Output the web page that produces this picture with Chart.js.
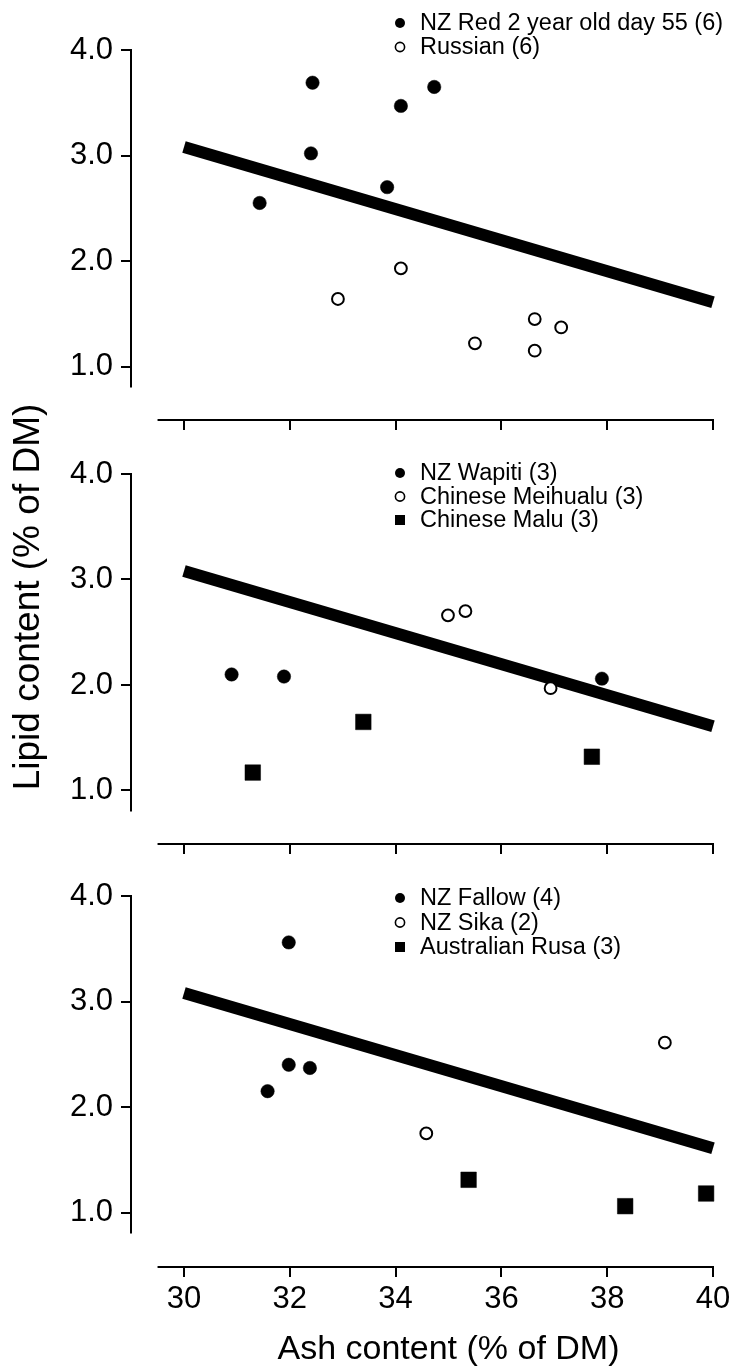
<!DOCTYPE html>
<html>
<head>
<meta charset="utf-8">
<script src="https://cdn.jsdelivr.net/npm/chart.js@4.4.1/dist/chart.umd.min.js"></script>
<style>
  html, body { margin: 0; padding: 0; background: #fff; overflow: hidden; width: 731px; height: 1367px; }
  canvas { position: absolute; left: 0; }
</style>
</head>
<body>
<canvas id="c1" width="760" height="440" style="top:0px"></canvas>
<canvas id="c2" width="760" height="534" style="top:330px"></canvas>
<canvas id="c3" width="760" height="524" style="top:846px"></canvas>
<script>
// ---------------- data ----------------
const xTicks = [30, 32, 34, 36, 38, 40];
const xTickLabels = ['30', '32', '34', '36', '38', '40'];
const yTicks = [1, 2, 3, 4];
const yTickLabels = ['1.0', '2.0', '3.0', '4.0'];

// common regression line (ash vs lipid)
const fitAsh = [30, 40];
const fitLipid = [3.08, 1.61];

// Panel 1
const nzRedAsh = [31.43, 32.43, 32.40, 33.84, 34.10, 34.73];
const nzRedLipid = [2.55, 3.69, 3.02, 2.70, 3.47, 3.65];
const russianAsh = [32.91, 34.10, 35.50, 36.63, 36.63, 37.13];
const russianLipid = [1.64, 1.93, 1.22, 1.45, 1.15, 1.37];

// Panel 2
const wapitiAsh = [30.90, 31.89, 37.90];
const wapitiLipid = [2.10, 2.08, 2.06];
const meihualuAsh = [34.99, 35.32, 36.93];
const meihualuLipid = [2.66, 2.70, 1.97];
const maluAsh = [31.30, 33.39, 37.71];
const maluLipid = [1.17, 1.65, 1.32];

// Panel 3
const fallowAsh = [31.98, 31.98, 32.38, 31.58];
const fallowLipid = [3.56, 2.40, 2.37, 2.15];
const sikaAsh = [34.58, 39.09];
const sikaLipid = [1.75, 2.61];
const rusaAsh = [35.38, 38.34, 39.87];
const rusaLipid = [1.31, 1.06, 1.18];

const xTitle = 'Ash content (% of DM)';
const yTitle = 'Lipid content (% of DM)';

// ---------------- styling / layout ----------------
Chart.defaults.font.family = "'Liberation Sans', Arial, Helvetica, sans-serif";
Chart.defaults.color = '#000';

const PX_PER_UNIT = 105.5;
const AXIS_GAP = 53;   // y axis sits this far left of the x = 30 position

function xy(xs, ys) { return xs.map((v, i) => ({ x: v, y: ys[i] })); }

function pointSet(label, xs, ys, kind) {
  const base = { label: label, data: xy(xs, ys), showLine: false, clip: 14, order: 0, legendKind: kind };
  if (kind === 'filled') {
    return Object.assign(base, { pointStyle: 'circle', pointRadius: 6.7, backgroundColor: '#000', borderColor: '#000', borderWidth: 0.5 });
  }
  if (kind === 'open') {
    return Object.assign(base, { pointStyle: 'circle', pointRadius: 5.9, backgroundColor: '#fff', borderColor: '#000', borderWidth: 2 });
  }
  return Object.assign(base, { pointStyle: 'rect', pointRadius: 11, backgroundColor: '#000', borderColor: '#000', borderWidth: 0.5 });
}

function fitSet() {
  return { label: 'fit', data: xy(fitAsh, fitLipid), showLine: true, borderColor: '#000', borderWidth: 12,
           borderCapStyle: 'butt', pointRadius: 0, clip: false, order: 1, fill: false };
}

const panelDecor = {
  id: 'panelDecor',
  afterDraw(chart, args, opts) {
    const ctx = chart.ctx, xs = chart.scales.x, ys = chart.scales.y, area = chart.chartArea;
    const axisX = area.left - AXIS_GAP;
    ctx.save();
    ctx.strokeStyle = '#000';
    ctx.lineWidth = 2;
    ctx.lineCap = 'butt';
    // y axis line
    ctx.beginPath();
    ctx.moveTo(axisX, ys.getPixelForValue(opts.yFrom) - 1);
    ctx.lineTo(axisX, ys.getPixelForValue(opts.yTo));
    ctx.stroke();
    // y tick marks
    yTicks.forEach(v => {
      const py = Math.round(ys.getPixelForValue(v));
      ctx.beginPath();
      ctx.moveTo(axisX - 10, py);
      ctx.lineTo(axisX, py);
      ctx.stroke();
    });
    // x axis line
    ctx.beginPath();
    ctx.moveTo(xs.getPixelForValue(opts.xFrom), area.bottom);
    ctx.lineTo(xs.getPixelForValue(opts.xTo) + 1, area.bottom);
    ctx.stroke();
    // legend
    const top = ys.getPixelForValue(4) + opts.legendTop;
    ctx.font = "23.5px 'Liberation Sans', Arial, Helvetica, sans-serif";
    ctx.textBaseline = 'middle';
    ctx.textAlign = 'left';
    ctx.fillStyle = '#000';
    let row = 0;
    chart.data.datasets.forEach(ds => {
      if (!ds.legendKind) return;
      const cy = top + row * opts.rowStep;
      const cx = opts.markerX;
      if (ds.legendKind === 'filled') {
        ctx.beginPath(); ctx.arc(cx, cy, 5, 0, Math.PI * 2); ctx.fill();
      } else if (ds.legendKind === 'open') {
        ctx.beginPath(); ctx.arc(cx, cy, 4.6, 0, Math.PI * 2); ctx.lineWidth = 1.6; ctx.stroke();
      } else {
        ctx.fillRect(cx - 5, cy - 5, 10, 10);
      }
      ctx.fillText(ds.label, opts.textX, cy + 1);
      row++;
    });
    ctx.restore();
  }
};

function makePanel(id, geo, datasets, showX, showYTitle) {
  const areaH = geo.height - geo.padTop - geo.axisH;
  const yMax = 4 + geo.above / PX_PER_UNIT;
  const yMin = yMax - areaH / PX_PER_UNIT;
  return new Chart(document.getElementById(id), {
    type: 'scatter',
    data: { datasets: datasets.concat([fitSet()]) },
    options: {
      responsive: false,
      animation: false,
      events: [],
      layout: { padding: { top: geo.padTop, right: 47, bottom: 0, left: 0 } },
      plugins: {
        legend: { display: false },
        tooltip: { enabled: false },
        panelDecor: { yFrom: 4, yTo: 0.8, xFrom: 29.5, xTo: 40, legendTop: geo.legendTop, rowStep: geo.rowStep, markerX: 400, textX: 420 }
      },
      scales: {
        x: {
          type: 'linear', min: 30, max: 40,
          afterFit: s => { s.height = geo.axisH; s.paddingLeft = 0; s.paddingRight = 0; },
          afterBuildTicks: s => { s.ticks = xTicks.map(v => ({ value: v })); },
          grid: { display: true, drawOnChartArea: false, drawTicks: true, tickLength: 10, tickColor: '#000', tickWidth: 2, color: '#000', lineWidth: 2 },
          border: { display: false },
          ticks: { display: showX, padding: 4, color: '#000', font: { size: 31 }, maxRotation: 0,
                   callback: (v, i) => xTickLabels[i] },
          title: { display: showX, text: xTitle, color: '#000', font: { size: 34 }, padding: { top: 0, bottom: 0 } }
        },
        y: {
          type: 'linear', min: yMin, max: yMax,
          afterFit: s => { s.width = 131 + AXIS_GAP; s.paddingTop = 0; s.paddingBottom = 0; },
          afterBuildTicks: s => { s.ticks = yTicks.map(v => ({ value: v })); },
          grid: { display: false, drawOnChartArea: false, drawTicks: false },
          border: { display: false },
          ticks: { padding: 18 + AXIS_GAP, color: '#000', font: { size: 31 }, callback: (v, i) => yTickLabels[i] },
          title: { display: showYTitle, text: yTitle, color: '#000', font: { size: 37 }, padding: { top: 7, bottom: 0 } }
        }
      }
    },
    plugins: [panelDecor]
  });
}

makePanel('c1', { height: 440, padTop: 50, axisH: 20, above: 0, legendTop: -27, rowStep: 24 }, [
  pointSet('NZ Red 2 year old day 55 (6)', nzRedAsh, nzRedLipid, 'filled'),
  pointSet('Russian (6)', russianAsh, russianLipid, 'open')
], false, false);

makePanel('c2', { height: 534, padTop: 20, axisH: 20, above: 124, legendTop: -1, rowStep: 23.5 }, [
  pointSet('NZ Wapiti (3)', wapitiAsh, wapitiLipid, 'filled'),
  pointSet('Chinese Meihualu (3)', meihualuAsh, meihualuLipid, 'open'),
  pointSet('Chinese Malu (3)', maluAsh, maluLipid, 'square')
], false, true);

makePanel('c3', { height: 524, padTop: 50, axisH: 103, above: 0, legendTop: 2, rowStep: 24.5 }, [
  pointSet('NZ Fallow (4)', fallowAsh, fallowLipid, 'filled'),
  pointSet('NZ Sika (2)', sikaAsh, sikaLipid, 'open'),
  pointSet('Australian Rusa (3)', rusaAsh, rusaLipid, 'square')
], true, false);
</script>
</body>
</html>
